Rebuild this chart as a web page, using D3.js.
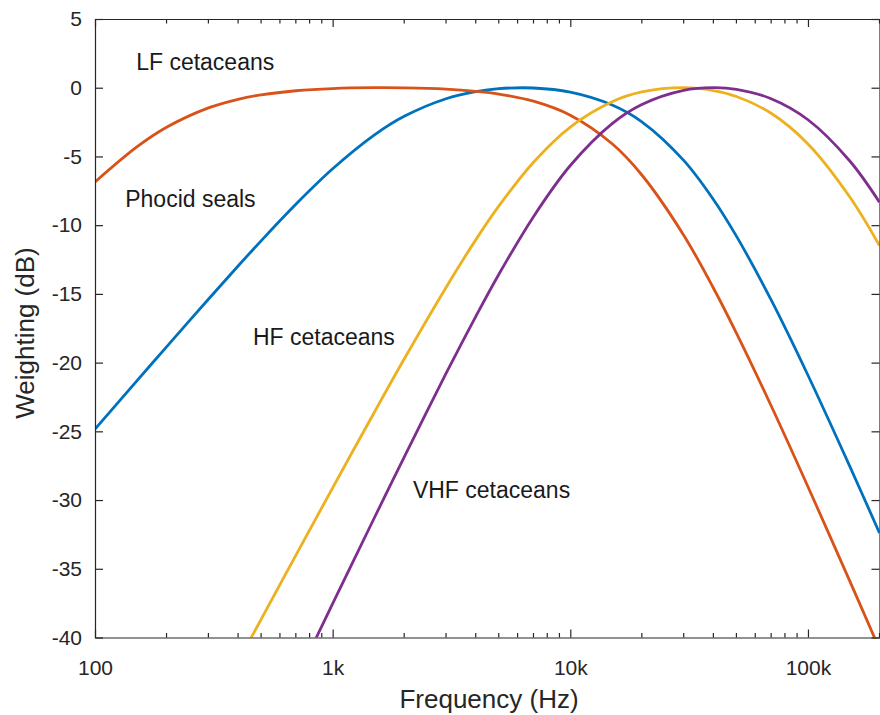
<!DOCTYPE html>
<html>
<head>
<meta charset="utf-8">
<script src="https://cdn.jsdelivr.net/npm/d3@7"></script>
<style>
  html, body { margin: 0; padding: 0; background: #fff; }
  svg { display: block; font-family: "Liberation Sans", Arial, Helvetica, sans-serif; }
</style>
</head>
<body>
<div id="chart"></div>
<script>
var FREQS = [100, 150, 200, 300, 400, 500, 700, 1000, 1500, 2000, 3000, 4000, 5000, 7000,
             10000, 15000, 20000, 30000, 40000, 50000, 70000, 100000, 150000, 200000];

// Weighting (dB) per group; null where the curve is off the chart
var LF_CETACEANS = [-6.86, -4.31, -2.88, -1.47, -0.84, -0.52, -0.22, -0.06, 0.00, -0.01, -0.10, -0.26, -0.46, -0.98,
                    -2.00, -4.08, -6.35, -10.73, -14.57, -17.85, -23.14, -29.03, -35.90, -40.84];
var PHOCID_SEALS = [-24.84, -21.33, -18.85, -15.39, -12.97, -11.14, -8.48, -5.90, -3.43, -2.08, -0.80, -0.29, -0.07, -0.02,
                    -0.32, -1.26, -2.48, -5.29, -8.13, -10.80, -15.44, -20.92, -27.55, -32.40];
var HF_CETACEANS = [null, null, null, null, -41.77, -38.68, -34.02, -29.11, -23.59, -19.74, -14.53, -11.07, -8.62, -5.42,
                    -2.86, -1.02, -0.31, 0.00, -0.21, -0.64, -1.86, -4.09, -7.95, -11.49];
var VHF_CETACEANS = [null, null, null, null, null, null, -43.09, -37.54, -31.27, -26.87, -20.79, -16.65, -13.59, -9.38,
                     -5.66, -2.61, -1.22, -0.19, 0.00, -0.12, -0.80, -2.33, -5.33, -8.33];

var SERIES = [
  { name: "Phocid seals", values: PHOCID_SEALS, color: "#0072BD" },
  { name: "LF cetaceans", values: LF_CETACEANS, color: "#D95319" },
  { name: "HF cetaceans", values: HF_CETACEANS, color: "#EDB120" },
  { name: "VHF cetaceans", values: VHF_CETACEANS, color: "#7E2F8E" }
];

var X_TICKS = [100, 1000, 10000, 100000];
var X_TICK_LABELS = ["100", "1k", "10k", "100k"];
var Y_TICKS = [5, 0, -5, -10, -15, -20, -25, -30, -35, -40];

// Text labels placed in the plot, [freq, dB] of the label's left baseline
var ANNOTATIONS = [
  { text: "LF cetaceans", f: 149, db: 1.3 },
  { text: "Phocid seals", f: 134, db: -8.7 },
  { text: "HF cetaceans", f: 462, db: -18.7 },
  { text: "VHF cetaceans", f: 2176, db: -29.85 }
];

var width = 880, height = 715;
var margin = { top: 19, right: 0.5, bottom: 77.5, left: 95 };

var svg = d3.select("#chart").append("svg")
  .attr("width", width)
  .attr("height", height);

var x = d3.scaleLog()
  .domain([100, 200000])
  .range([margin.left, width - margin.right]);

var y = d3.scaleLinear()
  .domain([-40, 5])
  .range([height - margin.bottom, margin.top]);

var axisColor = "#262626";

// clip region for the curves
svg.append("defs").append("clipPath").attr("id", "plotClip")
  .append("rect")
  .attr("x", x.range()[0]).attr("y", y.range()[1])
  .attr("width", x.range()[1] - x.range()[0])
  .attr("height", y.range()[0] - y.range()[1]);

// minor ticks for the log axis
var minorTicks = x.ticks().filter(function(t) { return X_TICKS.indexOf(t) === -1; });

function drawAxes() {
  var g = svg.append("g").attr("class", "axes");
  var x0 = x.range()[0], x1 = x.range()[1];
  var y0 = y.range()[0], y1 = y.range()[1];

  // bottom axis
  var bottom = g.append("g").attr("transform", "translate(0," + y0 + ")")
    .call(d3.axisBottom(x).tickValues(X_TICKS).tickSizeInner(-8).tickSizeOuter(0)
      .tickFormat(function(d, i) { return X_TICK_LABELS[i]; }));
  bottom.selectAll("text").attr("dy", 0).attr("y", 37.5)
    .attr("font-size", "21px").attr("fill", axisColor).attr("font-family", null);

  bottom.selectAll(".minor").data(minorTicks).enter().append("line")
    .attr("class", "minor")
    .attr("x1", function(d) { return x(d); }).attr("x2", function(d) { return x(d); })
    .attr("y1", 0).attr("y2", -4.5);

  // top axis (ticks only)
  var top = g.append("g").attr("transform", "translate(0," + y1 + ")")
    .call(d3.axisTop(x).tickValues(X_TICKS).tickSizeInner(-8).tickSizeOuter(0).tickFormat(""));
  top.selectAll(".minor").data(minorTicks).enter().append("line")
    .attr("class", "minor")
    .attr("x1", function(d) { return x(d); }).attr("x2", function(d) { return x(d); })
    .attr("y1", 0).attr("y2", 4.5);

  // left axis, plain hyphen minus like the original
  var left = g.append("g").attr("transform", "translate(" + x0 + ",0)")
    .call(d3.axisLeft(y).tickValues(Y_TICKS).tickSizeInner(-8).tickSizeOuter(0).tickPadding(13)
      .tickFormat(function(d) { return String(d); }));
  left.selectAll("text").attr("font-size", "21px").attr("fill", axisColor).attr("font-family", null);

  // right axis (ticks only)
  g.append("g").attr("transform", "translate(" + x1 + ",0)")
    .call(d3.axisRight(y).tickValues(Y_TICKS).tickSizeInner(-8).tickSizeOuter(0).tickFormat(""));

  g.selectAll(".domain").attr("stroke", axisColor).attr("stroke-width", 1.2);
  g.selectAll(".tick line, .minor").attr("stroke", axisColor).attr("stroke-width", 1.2);

  // axis titles
  svg.append("text")
    .attr("x", 489).attr("y", 708)
    .attr("text-anchor", "middle")
    .attr("font-size", "26px")
    .attr("fill", axisColor)
    .text("Frequency (Hz)");

  svg.append("text")
    .attr("transform", "translate(34," + 333 + ") rotate(-90)")
    .attr("text-anchor", "middle")
    .attr("font-size", "26px")
    .attr("fill", axisColor)
    .text("Weighting (dB)");
}

function drawCurves() {
  var line = d3.line()
    .defined(function(d) { return d[1] !== null; })
    .x(function(d) { return x(d[0]); })
    .y(function(d) { return y(d[1]); })
    .curve(d3.curveCatmullRom.alpha(0.5));

  var g = svg.append("g").attr("clip-path", "url(#plotClip)");
  SERIES.forEach(function(s) {
    var pts = FREQS.map(function(f, i) { return [f, s.values[i]]; });
    g.append("path")
      .datum(pts)
      .attr("d", line)
      .attr("fill", "none")
      .attr("stroke", s.color)
      .attr("stroke-width", 2.8)
      .attr("stroke-linejoin", "round");
  });
}

function drawAnnotations() {
  ANNOTATIONS.forEach(function(a) {
    svg.append("text")
      .attr("x", x(a.f))
      .attr("y", y(a.db))
      .attr("font-size", "23px")
      .attr("fill", "#1a1a1a")
      .text(a.text);
  });
}

drawCurves();
drawAxes();
drawAnnotations();
</script>
</body>
</html>
